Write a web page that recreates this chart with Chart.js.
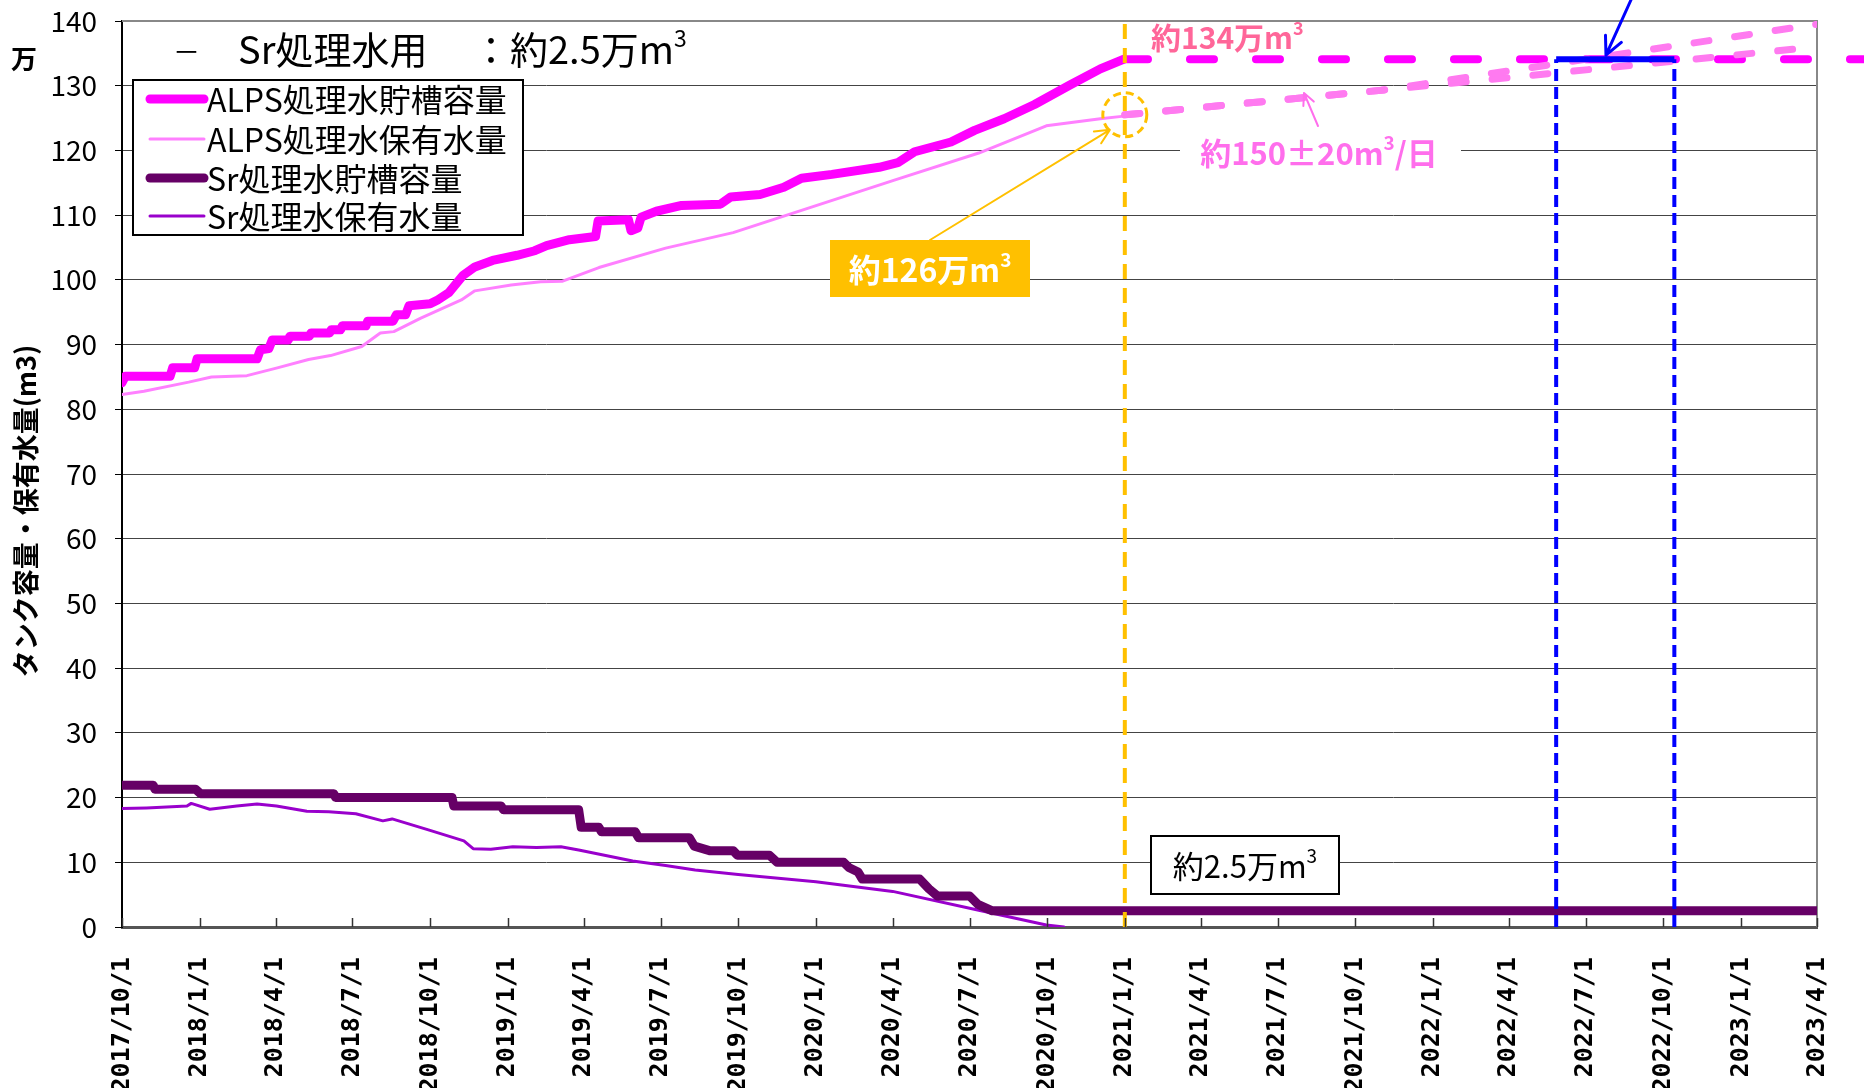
<!DOCTYPE html>
<html>
<head>
<meta charset="utf-8">
<script src="https://cdn.jsdelivr.net/npm/chart.js@4.4.1/dist/chart.umd.min.js"></script>
<style>
  html, body { margin: 0; padding: 0; background: #fff; }
  #wrap { width: 1864px; height: 1088px; }
</style>
</head>
<body>
<div id="wrap"><canvas id="tankChart" width="1864" height="1088"></canvas></div>
<script>
// quarterly tick labels on the date axis
const tickLabels = ['2017/10/1', '2018/1/1', '2018/4/1', '2018/7/1', '2018/10/1', '2019/1/1',
    '2019/4/1', '2019/7/1', '2019/10/1', '2020/1/1', '2020/4/1', '2020/7/1', '2020/10/1',
    '2021/1/1', '2021/4/1', '2021/7/1', '2021/10/1', '2022/1/1', '2022/4/1', '2022/7/1',
    '2022/10/1', '2023/1/1', '2023/4/1'];

// ALPS処理水貯槽容量 (万m3)
const alpsCapDates = ['2017/10/1', '2017/10/5', '2017/11/27', '2017/11/30', '2017/12/26', '2017/12/29',
    '2018/3/10', '2018/3/14', '2018/3/24', '2018/3/28', '2018/4/16', '2018/4/18', '2018/5/11',
    '2018/5/13', '2018/6/4', '2018/6/6', '2018/6/17', '2018/6/19', '2018/7/17', '2018/7/19',
    '2018/8/18', '2018/8/22', '2018/9/2', '2018/9/6', '2018/10/1', '2018/10/10', '2018/10/23',
    '2018/11/9', '2018/11/23', '2018/12/14', '2019/1/12', '2019/2/2', '2019/2/16', '2019/3/15',
    '2019/4/15', '2019/4/18', '2019/5/24', '2019/5/27', '2019/6/4', '2019/6/8', '2019/6/26',
    '2019/7/26', '2019/9/10', '2019/9/22', '2019/10/27', '2019/11/24', '2019/12/15', '2020/1/20',
    '2020/3/16', '2020/4/7', '2020/4/27', '2020/6/9', '2020/7/7', '2020/8/11', '2020/9/16',
    '2020/10/28', '2020/12/3', '2020/12/31'];
const alpsCapValues = [84.1, 85.1, 85.1, 86.4, 86.4, 87.8,
    87.8, 89.2, 89.4, 90.7, 90.7, 91.3, 91.3,
    91.8, 91.8, 92.3, 92.3, 92.9, 92.9, 93.6,
    93.6, 94.6, 94.6, 96.0, 96.3, 96.9, 98.0,
    100.7, 102.0, 103.0, 103.8, 104.5, 105.3, 106.2,
    106.7, 109.1, 109.3, 107.6, 108.0, 109.7, 110.6,
    111.5, 111.7, 112.8, 113.2, 114.3, 115.7, 116.3,
    117.4, 118.1, 119.8, 121.3, 123.1, 124.9, 127.1,
    130.1, 132.6, 134.1];

// ALPS処理水保有水量
const alpsHoldDates = ['2017/10/1', '2017/10/27', '2017/12/19', '2018/1/15', '2018/2/26', '2018/4/3',
    '2018/5/10', '2018/6/5', '2018/7/12', '2018/8/3', '2018/8/19', '2018/9/20', '2018/11/7',
    '2018/11/23', '2019/1/5', '2019/2/9', '2019/3/7', '2019/4/19', '2019/7/7', '2019/9/25',
    '2020/4/3', '2020/7/12', '2020/9/30', '2020/12/3', '2020/12/31'];
const alpsHoldValues = [82.3, 82.8, 84.2, 85.0, 85.2, 86.4,
    87.7, 88.3, 89.7, 91.8, 92.0, 94.1, 96.9,
    98.3, 99.2, 99.7, 99.8, 101.9, 104.9, 107.3,
    115.4, 119.6, 123.8, 124.9, 125.3];

// Sr処理水貯槽容量
const srCapDates = ['2017/10/1', '2017/11/7', '2017/11/9', '2017/12/27', '2018/1/2', '2018/6/9',
    '2018/6/11', '2018/10/27', '2018/10/29', '2018/12/24', '2018/12/27', '2019/3/26', '2019/3/29',
    '2019/4/19', '2019/4/22', '2019/6/1', '2019/6/5', '2019/8/4', '2019/8/10', '2019/8/28',
    '2019/9/25', '2019/9/30', '2019/11/7', '2019/11/16', '2020/2/3', '2020/2/9', '2020/2/20',
    '2020/2/25', '2020/5/3', '2020/5/14', '2020/5/24', '2020/7/1', '2020/7/11', '2020/7/28',
    '2023/4/1'];
const srCapValues = [21.9, 21.9, 21.3, 21.3, 20.6, 20.6,
    20.0, 20.0, 18.7, 18.7, 18.1, 18.1, 15.4,
    15.4, 14.7, 14.7, 13.8, 13.8, 12.5, 11.8,
    11.8, 11.1, 11.1, 10.0, 10.0, 9.2, 8.5,
    7.4, 7.4, 5.9, 4.8, 4.8, 3.5, 2.5,
    2.5];

// Sr処理水保有水量
const srHoldDates = ['2017/10/1', '2017/10/30', '2017/12/17', '2017/12/22', '2018/1/13', '2018/2/14',
    '2018/3/10', '2018/4/2', '2018/5/8', '2018/6/3', '2018/7/5', '2018/8/6', '2018/8/17',
    '2018/9/29', '2018/11/10', '2018/11/21', '2018/12/12', '2019/1/7', '2019/2/4', '2019/3/5',
    '2019/3/26', '2019/5/29', '2019/7/7', '2019/8/11', '2019/10/1', '2020/1/1', '2020/4/1',
    '2020/7/12', '2020/9/30', '2020/10/21'];
const srHoldValues = [18.3, 18.4, 18.7, 19.1, 18.2, 18.7,
    19.0, 18.7, 17.9, 17.8, 17.5, 16.4, 16.7,
    15.0, 13.3, 12.1, 12.0, 12.4, 12.3, 12.4,
    11.9, 10.2, 9.5, 8.8, 8.1, 7.0, 5.5,
    2.6, 0.3, 0];

// projection of stored water, 約150±20m3/日
const projDates = ['2021/1/1', '2021/11/1', '2023/4/1'];
const projUpperValues = [125.5, 129.3, 139.5];
const projLowerValues = [125.5, 129.3, 136.0];

// 約134万m3 total capacity line (runs past the right edge)
const capLineDates = ['2020/12/31', '2023/6/15'];
const capLineValues = [134.1, 134.1];

// reference verticals
const markerDate = ['2021/1/1', '2021/1/1'];
const markerValues = [0, 140];
const blueDates = ['2022/5/27', '2022/10/14'];
const blueTop = 134.1;

const FONT = '"Noto Sans CJK JP", sans-serif';

function day(label) {
    const [y, m, d] = label.split('/').map(Number);
    return Date.UTC(y, m - 1, d) / 86400000;
}

function points(dates, values) {
    return dates.map((d, i) => ({ x: day(d), y: values[i] }));
}

function drawRich(ctx, parts, x, y, size, weight, color, align) {
    const fontFor = sup => `${weight} ${sup ? Math.round(size * 0.6) : size}px ${FONT}`;
    let total = 0;
    const widths = parts.map(([t, sup]) => {
        ctx.font = fontFor(sup);
        const w = ctx.measureText(t).width;
        total += w;
        return w;
    });
    let cx = align === 'center' ? x - total / 2 : x;
    ctx.fillStyle = color;
    ctx.textAlign = 'left';
    ctx.textBaseline = 'middle';
    parts.forEach(([t, sup], i) => {
        ctx.font = fontFor(sup);
        ctx.fillText(t, cx, sup ? y - size * 0.32 : y);
        cx += widths[i];
    });
}

function arrow(ctx, x1, y1, x2, y2, color, width, head) {
    const a = Math.atan2(y2 - y1, x2 - x1);
    ctx.save();
    ctx.strokeStyle = color;
    ctx.lineWidth = width;
    ctx.lineCap = 'round';
    ctx.lineJoin = 'round';
    ctx.beginPath();
    ctx.moveTo(x1, y1);
    ctx.lineTo(x2, y2);
    ctx.moveTo(x2 - head * Math.cos(a - 0.45), y2 - head * Math.sin(a - 0.45));
    ctx.lineTo(x2, y2);
    ctx.lineTo(x2 - head * Math.cos(a + 0.45), y2 - head * Math.sin(a + 0.45));
    ctx.stroke();
    ctx.restore();
}

// frame, inner tick marks, legend and all the callouts
const calloutPlugin = {
    id: 'callouts',
    beforeDatasetsDraw(chart) {
        const { ctx, chartArea: a } = chart;
        ctx.save();
        ctx.strokeStyle = '#888';
        ctx.lineWidth = 2;
        ctx.beginPath();
        ctx.moveTo(a.left, a.top);
        ctx.lineTo(a.right, a.top);
        ctx.lineTo(a.right, a.bottom);
        ctx.stroke();
        ctx.restore();
    },
    afterDatasetsDraw(chart) {
        const { ctx } = chart;
        const xs = chart.scales.x, ys = chart.scales.y;

        // orange dashed circle around the 126万 point
        const cx = xs.getPixelForValue(day('2021/1/1'));
        const cy = ys.getPixelForValue(125.5);
        ctx.save();
        ctx.strokeStyle = '#FFC000';
        ctx.lineWidth = 3;
        ctx.setLineDash([8, 5]);
        ctx.beginPath();
        ctx.arc(cx, cy, 22, 0, Math.PI * 2);
        ctx.stroke();
        ctx.restore();

        // 約126万m3 box with arrow
        arrow(ctx, 930, 240, cx - 15, cy + 15, '#FFC000', 2, 16);
        ctx.fillStyle = '#FFC000';
        ctx.fillRect(830, 240, 200, 57);
        drawRich(ctx, [['約126万m', false], ['3', true]], 930, 270, 32, 'bold', '#fff', 'center');

        // 約134万m3
        drawRich(ctx, [['約134万m', false], ['3', true]], 1151, 38, 30, 'bold', '#FF6699', 'left');

        // 約150±20m3/日 with its arrow
        ctx.fillStyle = '#fff';
        ctx.fillRect(1180, 134, 281, 36);
        drawRich(ctx, [['約150±20m', false], ['3', true], ['/日', false]], 1319, 153, 31, 'bold', '#FF6EEC', 'center');
        arrow(ctx, 1318, 126, 1304, 93, '#FF6EEC', 2, 13);

        // 約2.5万m3 box
        ctx.fillStyle = '#fff';
        ctx.fillRect(1151, 836, 188, 58);
        ctx.strokeStyle = '#000';
        ctx.lineWidth = 2;
        ctx.strokeRect(1151, 836, 188, 58);
        drawRich(ctx, [['約2.5万m', false], ['3', true]], 1245, 866, 31, 'normal', '#000', 'center');

        // blue arrow onto the capacity bar
        const bx = xs.getPixelForValue(day('2022/7/25'));
        const by = ys.getPixelForValue(blueTop) - 4;
        arrow(ctx, bx + 25, 0, bx, by, '#0000FF', 3, 20);
    },
    afterDraw(chart) {
        const { ctx, chartArea: a } = chart;
        const xs = chart.scales.x;

        // inside tick marks on the date axis
        ctx.save();
        ctx.strokeStyle = '#333';
        ctx.lineWidth = 1.5;
        xs.ticks.forEach(t => {
            const px = Math.round(xs.getPixelForValue(t.value)) + 0.5;
            ctx.beginPath();
            ctx.moveTo(px, a.bottom);
            ctx.lineTo(px, a.bottom - 9);
            ctx.stroke();
        });
        ctx.restore();

        // legend box
        ctx.save();
        ctx.fillStyle = '#fff';
        ctx.fillRect(133, 80, 390, 155);
        ctx.strokeStyle = '#000';
        ctx.lineWidth = 2;
        ctx.strokeRect(133, 80, 390, 155);
        const items = chart.data.datasets.filter(ds => ds.inLegend)
            .sort((p, q) => p.inLegend - q.inLegend);
        const rows = [99, 139, 178, 216];
        items.forEach((ds, i) => {
            ctx.strokeStyle = ds.borderColor;
            ctx.lineWidth = ds.borderWidth;
            ctx.lineCap = 'round';
            ctx.beginPath();
            ctx.moveTo(150, rows[i]);
            ctx.lineTo(204, rows[i]);
            ctx.stroke();
            ctx.fillStyle = '#000';
            ctx.font = `32px ${FONT}`;
            ctx.textAlign = 'left';
            ctx.textBaseline = 'middle';
            ctx.fillText(ds.label, 207, rows[i] + 1);
        });
        ctx.restore();

        // header note
        ctx.save();
        drawRich(ctx, [['－', false]], 173, 52, 27, 'normal', '#000', 'left');
        drawRich(ctx, [['Sr処理水用', false]], 238, 50, 38, 'normal', '#000', 'left');
        drawRich(ctx, [['：約2.5万m', false], ['3', true]], 472, 50, 38, 'normal', '#000', 'left');

        // unit and axis title
        ctx.fillStyle = '#000';
        ctx.font = `bold 26px ${FONT}`;
        ctx.textAlign = 'center';
        ctx.textBaseline = 'middle';
        ctx.fillText('万', 24, 59);
        ctx.translate(26, 511);
        ctx.rotate(-Math.PI / 2);
        ctx.font = `bold 27px ${FONT}`;
        ctx.fillText('タンク容量・保有水量(m3)', 0, 0);
        ctx.restore();
    }
};

const line = (label, dates, values, color, width, extra) => Object.assign({
    label,
    data: points(dates, values),
    borderColor: color,
    backgroundColor: color,
    borderWidth: width,
    pointRadius: 0,
    tension: 0,
    fill: false,
    borderJoinStyle: 'round',
    borderCapStyle: 'round'
}, extra || {});

const datasets = [
    line('marker', markerDate, markerValues, '#FFC000', 4, { borderDash: [15, 9], borderCapStyle: 'butt', order: 0 }),
    line('blueTop', blueDates, [blueTop, blueTop], '#0000FF', 6, { borderCapStyle: 'butt', order: 1 }),
    line('blueLeft', [blueDates[0], blueDates[0]], [0, blueTop], '#0000FF', 4, { borderDash: [12, 6], borderCapStyle: 'butt', order: 1 }),
    line('blueRight', [blueDates[1], blueDates[1]], [0, blueTop], '#0000FF', 4, { borderDash: [12, 6], borderCapStyle: 'butt', order: 1 }),
    line('projUpper', projDates, projUpperValues, '#FF7AF0', 7, { borderDash: [15, 26], order: 2 }),
    line('projLower', projDates, projLowerValues, '#FF7AF0', 7, { borderDash: [15, 26], order: 2 }),
    line('cap134', capLineDates, capLineValues, '#FF00FF', 8, { borderDash: [24, 42], clip: false, order: 3 }),
    line('ALPS処理水貯槽容量', alpsCapDates, alpsCapValues, '#FF00FF', 9, { inLegend: 1, order: 4 }),
    line('ALPS処理水保有水量', alpsHoldDates, alpsHoldValues, '#FF80FF', 3, { inLegend: 2, order: 5 }),
    line('Sr処理水貯槽容量', srCapDates, srCapValues, '#660066', 9, { inLegend: 3, order: 4 }),
    line('Sr処理水保有水量', srHoldDates, srHoldValues, '#9900CC', 3, { inLegend: 4, order: 5 })
];

Chart.defaults.font.family = FONT;
Chart.defaults.color = '#000';

new Chart(document.getElementById('tankChart'), {
    type: 'line',
    data: { datasets },
    options: {
        responsive: false,
        animation: false,
        events: [],
        layout: { padding: { top: 21, right: 47, left: 0, bottom: 0 } },
        plugins: {
            legend: { display: false },
            tooltip: { enabled: false }
        },
        scales: {
            x: {
                type: 'linear',
                min: day(tickLabels[0]),
                max: day(tickLabels[tickLabels.length - 1]),
                afterBuildTicks: scale => {
                    scale.ticks = tickLabels.map(l => ({ value: day(l) }));
                },
                afterFit: scale => {
                    scale.height = 161;
                    scale.paddingLeft = 0;
                    scale.paddingRight = 0;
                },
                grid: { display: false },
                border: { display: true, color: '#555', width: 3 },
                ticks: {
                    autoSkip: false,
                    minRotation: 90,
                    maxRotation: 90,
                    padding: 22,
                    color: '#000',
                    font: { family: '"DejaVu Sans Mono", monospace', size: 25, weight: 'bold' },
                    callback: (value, index) => tickLabels[index]
                }
            },
            y: {
                min: 0,
                max: 140,
                afterFit: scale => {
                    scale.width = 122;
                    scale.paddingTop = 0;
                    scale.paddingBottom = 0;
                },
                grid: { color: '#444', lineWidth: 1, tickLength: 7, tickColor: '#000' },
                border: { display: true, color: '#000', width: 2 },
                ticks: {
                    stepSize: 10,
                    padding: 18,
                    color: '#000',
                    font: { size: 28 }
                }
            }
        }
    },
    plugins: [calloutPlugin]
});
</script>
</body>
</html>
